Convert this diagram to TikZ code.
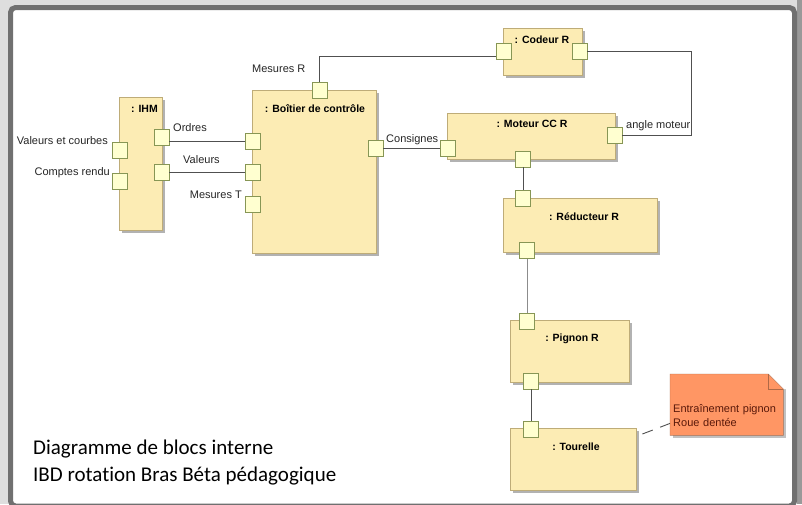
\documentclass[tikz,border=0pt]{standalone}
\usepackage{fontspec}
\setmainfont{Liberation Sans}
\newfontfamily\captionfont[Ligatures=NoCommon]{Carlito}
\usetikzlibrary{shadows}

\definecolor{blockfill}{RGB}{252,236,180}
\definecolor{blockline}{RGB}{190,172,120}
\definecolor{portfill}{RGB}{255,255,208}
\definecolor{portline}{RGB}{135,150,85}
\definecolor{notefill}{RGB}{255,150,100}
\definecolor{noteline}{RGB}{175,105,70}
\definecolor{notetext}{RGB}{90,25,10}
\definecolor{linkgray}{RGB}{80,80,80}
\definecolor{framegray}{RGB}{112,112,112}

\begin{document}
\begin{tikzpicture}
      [x=1pt, y=-1pt,
       block/.style={
           rectangle,
           draw=blockline, fill=blockfill,
           anchor=north west, inner sep=0pt,
           drop shadow={shadow xshift=2.5pt, shadow yshift=-2.5pt,
                        fill=black!60, opacity=.5}
         },
       port/.style={
           rectangle,
           draw=portline, fill=portfill,
           minimum width=15pt, minimum height=16pt,
           inner sep=0pt
         },
       title/.style={
           font=\bfseries\fontsize{10.5}{12}\selectfont,
           anchor=base, inner sep=0pt
         },
       flow/.style={
           font=\fontsize{11}{13}\selectfont,
           text=black!85, inner sep=0pt
         },
       caption/.style={
           font=\captionfont\fontsize{21}{26}\selectfont,
           anchor=base west, inner sep=0pt
         },
       link/.style={draw=linkgray, line width=0.9pt},
       note/.style={
           rectangle,
           fill=notefill,
           anchor=north west,
           text width=107pt, align=left, text height=29pt,
           minimum height=61pt, inner sep=3pt,
           font=\fontsize{11}{14}\selectfont, text=notetext,
           drop shadow={shadow xshift=2.5pt, shadow yshift=-2.5pt,
                        fill=black!60, opacity=.4}
         },
       ]
    \useasboundingbox (0,0) rectangle (802,504);
    \fill [black!13] (0,0) rectangle (802,504);
    \fill [black!40] (797,0) rectangle (802,504);
    \draw [line width=5pt, draw=framegray, fill=white, rounded corners=5pt]
      (10.5,7.5) rectangle (794.5,506);

    % blocks
    \node [block, minimum width=43pt, minimum height=133pt] (ihm) at (119,97) {};
    \node [block, minimum width=124pt, minimum height=163pt] (boitier) at (252,90) {};
    \node [block, minimum width=79pt, minimum height=47pt] (codeur) at (503,28) {};
    \node [block, minimum width=168pt, minimum height=46pt] (moteur) at (447,113) {};
    \node [block, minimum width=154pt, minimum height=54pt] (reducteur) at (503,198) {};
    \node [block, minimum width=119pt, minimum height=62pt] (pignon) at (510,320) {};
    \node [block, minimum width=126pt, minimum height=62pt] (tour) at (510,428) {};

    \node [title] (ihm-t) at (144.5,112) {: IHM};
    \node [title] (boitier-t) at (315,112) {: Boîtier de contrôle};
    \node [title] (codeur-t) at (542,43) {: Codeur R};
    \node [title] (moteur-t) at (532,127) {: Moteur CC R};
    \node [title] (reducteur-t) at (584,220) {: Réducteur R};
    \node [title] (pignon-t) at (572,341) {: Pignon R};
    \node [title] (tour-t) at (576,450) {: Tourelle};

    % ports
    \node [port] (iVC) at (120,150) {};
    \node [port] (iCR) at (120,181) {};
    \node [port] (iO) at (161.5,137) {};
    \node [port] (iV) at (161.5,172) {};
    \node [port] (bMR) at (319.5,90) {};
    \node [port] (bO) at (253,141) {};
    \node [port] (bV) at (253,172) {};
    \node [port] (bMT) at (253,204) {};
    \node [port] (bC) at (375.5,148) {};
    \node [port] (cL) at (503.5,51) {};
    \node [port] (cR) at (579.5,51) {};
    \node [port] (mL) at (447.5,148) {};
    \node [port] (mR) at (614.5,135) {};
    \node [port] (mB) at (523,159) {};
    \node [port] (rT) at (523,198) {};
    \node [port] (rB) at (527,250.5) {};
    \node [port] (pT) at (527,321) {};
    \node [port] (pB) at (531,381) {};
    \node [port] (tT) at (531,429) {};

    % flow labels
    \node [flow, anchor=base east] (l-vc) at (108,144) {Valeurs et courbes};
    \node [flow, anchor=base east] (l-cr) at (110,175) {Comptes rendu};
    \node [flow, anchor=base west] (l-o) at (173,131) {Ordres};
    \node [flow, anchor=base west] (l-v) at (183,163) {Valeurs};
    \node [flow, anchor=base east] (l-mt) at (242,198) {Mesures T};
    \node [flow, anchor=base west] (l-mr) at (252,72) {Mesures R};
    \node [flow, anchor=base west] (l-c) at (386,142) {Consignes};
    \node [flow, anchor=base west] (l-am) at (626,128) {angle moteur};

    % connectors
    \draw [link] (bMR.north) |- ([yshift=-5pt]cL.west);
    \draw [link] (cR.east) -- ++(104,0) |- (mR.east);
    \path (bC.east) edge [link] (mL.west);
    \path (bO.west) edge [link] (bO.west -| iO.east);
    \path (iV.east) edge [link] (bV.west);
    \path (mB.south) edge [link] (rT.north);
    \path (rB.south) edge [link, draw=black!45] (pT.north);
    \path (pB.south) edge [link] (tT.north);

    % note
    \node [note] (note) at (670,374) {Entraînement pignon\\Roue dentée};
    \fill [white] ([xshift=-15pt]note.north east) -- ([xshift=3pt]note.north east)
      -- ([xshift=3pt, yshift=-15pt]note.north east) -- ([yshift=-15pt]note.north east) -- cycle;
    \draw [noteline] (note.north west) -- ([xshift=-15pt]note.north east)
      -- ([yshift=-15pt]note.north east) |- (note.south west) -- cycle;
    \draw [noteline] ([xshift=-15pt]note.north east)
      -- ([xshift=-15pt, yshift=-15pt]note.north east) -- ([yshift=-15pt]note.north east);
    \draw [link, dash pattern=on 11pt off 8pt]
      ([xshift=6pt, yshift=-6pt]tour.north east) -- ([yshift=12pt]note.south west);

    % caption
    \node [caption] (cap1) at (33,454) {Diagramme de blocs interne};
    \node [caption] (cap2) at (33,481) {IBD rotation Bras Béta pédagogique};
  \end{tikzpicture}
\end{document}
